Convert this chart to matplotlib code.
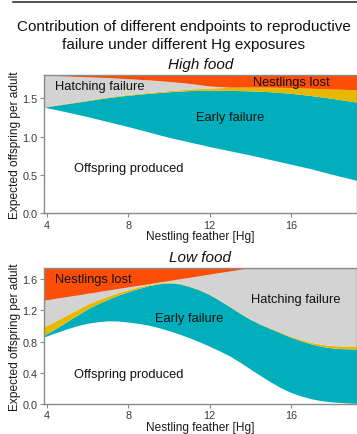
import matplotlib
matplotlib.use("Agg")
import matplotlib.pyplot as plt
import numpy as np
from matplotlib.lines import Line2D

plt.rcParams['font.family'] = ['Liberation Sans', 'DejaVu Sans']

# High food: Hg levels and cumulative upper edges of each stacked band
hg_high = [3.85, 5, 6, 7, 8, 9, 10, 11, 12, 13, 14, 15, 16, 17, 18, 19.3]
high_offspring = [1.385, 1.32, 1.26, 1.195, 1.13, 1.06, 0.99, 0.93, 0.87, 0.815,
                  0.76, 0.70, 0.64, 0.58, 0.51, 0.425]
high_early = [1.385, 1.43, 1.47, 1.51, 1.54, 1.565, 1.585, 1.60, 1.605, 1.603,
              1.597, 1.585, 1.565, 1.535, 1.50, 1.447]
high_late = [1.39, 1.436, 1.478, 1.519, 1.55, 1.577, 1.60, 1.62, 1.635, 1.643,
             1.647, 1.645, 1.64, 1.63, 1.62, 1.612]
high_hatch = [1.805, 1.79, 1.78, 1.77, 1.755, 1.74, 1.72, 1.695, 1.66, 1.645,
              1.647, 1.645, 1.64, 1.63, 1.62, 1.612]
high_total = [1.81] * len(hg_high)

# Low food
hg_low = [3.85, 4.5, 5, 5.5, 6, 6.5, 7, 7.5, 8, 8.5, 9, 9.5, 10, 10.5, 11, 11.5,
          12, 12.5, 13, 13.5, 14, 14.5, 15, 15.5, 16, 16.5, 17, 17.5, 18, 18.5, 19.3]
low_offspring = [0.86, 0.92, 0.965, 1.005, 1.035, 1.055, 1.065, 1.063, 1.05, 1.033,
                 1.01, 0.978, 0.94, 0.897, 0.85, 0.797, 0.74, 0.68, 0.615, 0.535,
                 0.45, 0.365, 0.285, 0.21, 0.15, 0.105, 0.07, 0.045, 0.03, 0.02, 0.01]
low_early = [0.88, 0.98, 1.06, 1.14, 1.22, 1.285, 1.34, 1.395, 1.44, 1.48,
             1.515, 1.54, 1.55, 1.54, 1.505, 1.46, 1.40, 1.325, 1.245, 1.16,
             1.085, 1.02, 0.965, 0.91, 0.855, 0.81, 0.77, 0.74, 0.72, 0.71, 0.705]
low_late = [0.99, 1.075, 1.145, 1.212, 1.28, 1.335, 1.38, 1.427, 1.465, 1.50,
            1.53, 1.551, 1.558, 1.547, 1.511, 1.465, 1.405, 1.33, 1.25, 1.165,
            1.09, 1.026, 0.973, 0.92, 0.868, 0.827, 0.79, 0.765, 0.75, 0.745, 0.745]
low_hatch = [1.33, 1.357, 1.377, 1.397, 1.418, 1.438, 1.459, 1.479, 1.50, 1.52,
             1.54, 1.561, 1.581, 1.602, 1.622, 1.643, 1.663, 1.684, 1.704, 1.725,
             1.745, 1.745, 1.745, 1.745, 1.745, 1.745, 1.745, 1.745, 1.745, 1.745, 1.745]
low_total = [1.745] * len(hg_low)

colors = ['white', '#00AFBB', '#E7B800', '#D3D3D3', '#FC4E07']
spine_col = '#8a8a8a'


def draw_panel(ax, x, bounds, ymax, yticks, labels):
    lower = np.zeros(len(x))
    for upper, col in zip(bounds, colors):
        ax.fill_between(x, lower, upper, color=col, linewidth=0)
        lower = np.array(upper)
    ax.set_xlim(3.85, 19.25)
    ax.set_ylim(0, ymax)
    ax.set_xticks([4, 8, 12, 16])
    ax.set_yticks(yticks)
    ax.set_yticklabels(['%.1f' % t for t in yticks])
    for side in ['left', 'bottom', 'top', 'right']:
        ax.spines[side].set_color(spine_col)
        ax.spines[side].set_linewidth(1.0)
    ax.tick_params(colors=spine_col, labelcolor='#3a3a3a', labelsize=7.8,
                   length=3, width=0.8, pad=1.5)
    ax.set_xlabel('Nestling feather [Hg]', fontsize=8.6, color='#1a1a1a', labelpad=0.3)
    ax.set_ylabel('Expected offspring per adult', fontsize=8.6, color='#1a1a1a', labelpad=1)
    for txt, tx, ty, ha in labels:
        ax.text(tx, ty, txt, ha=ha, va='center', fontsize=9.3, color='#111111')


fig = plt.figure(figsize=(3.57, 4.35), dpi=100)
ax1 = fig.add_axes([0.1232, 0.5074, 0.8768, 0.3190])
ax2 = fig.add_axes([0.1232, 0.0685, 0.8768, 0.3138])

draw_panel(ax1, hg_high, [high_offspring, high_early, high_late, high_hatch, high_total],
           1.81, [0.0, 0.5, 1.0, 1.5],
           [('Hatching failure', 4.4, 1.655, 'left'),
            ('Nestlings lost', 16.0, 1.715, 'center'),
            ('Early failure', 13.0, 1.25, 'center'),
            ('Offspring produced', 8.0, 0.59, 'center')])
draw_panel(ax2, hg_low, [low_offspring, low_early, low_late, low_hatch, low_total],
           1.745, [0.0, 0.4, 0.8, 1.2, 1.6],
           [('Nestlings lost', 6.26, 1.60, 'center'),
            ('Hatching failure', 16.26, 1.35, 'center'),
            ('Early failure', 10.98, 1.10, 'center'),
            ('Offspring produced', 8.0, 0.39, 'center')])

fig.text(0.515, 0.918, 'Contribution of different endpoints to reproductive\n'
         'failure under different Hg exposures',
         ha='center', va='center', fontsize=11, linespacing=1.35, color='#111111')
fig.text(0.561, 1 - 65 / 435, 'High food', ha='center', va='center',
         fontsize=11, style='italic', color='#111111')
fig.text(0.561, 1 - 258 / 435, 'Low food', ha='center', va='center',
         fontsize=11, style='italic', color='#111111')

# rule across the top
fig.add_artist(Line2D([13 / 357, 1], [1 - 3.3 / 435, 1 - 3.3 / 435],
                      color='#222222', linewidth=1.1))

fig.savefig('out.png', dpi=100)
